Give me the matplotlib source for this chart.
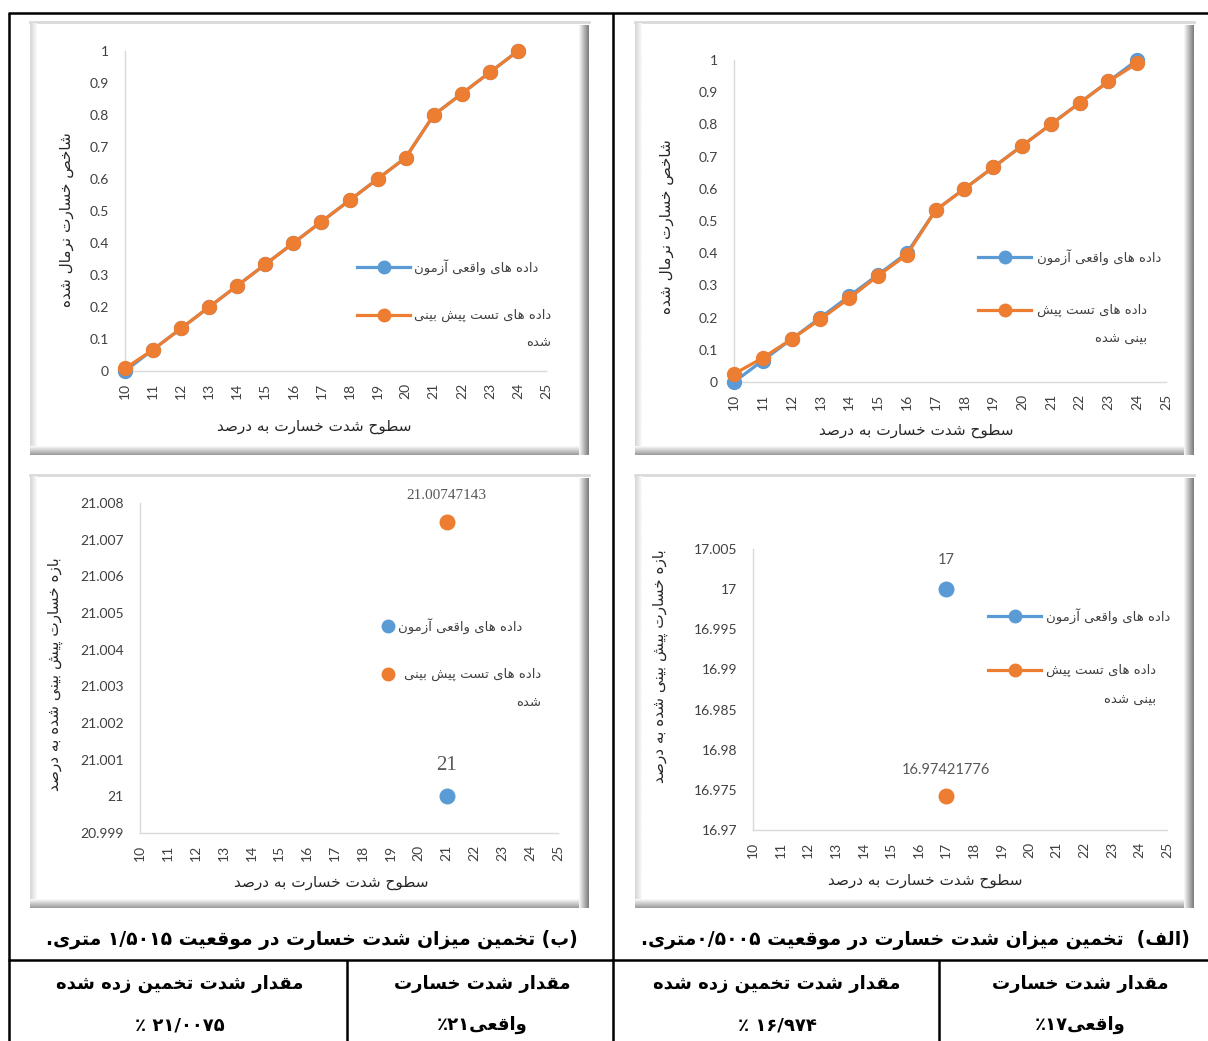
import numpy as np
import matplotlib
matplotlib.use("Agg")
import matplotlib.pyplot as plt
from matplotlib.ticker import FuncFormatter

# ---------------- data ----------------
levels = list(range(10, 25))
x_ticks = list(range(10, 26))
norm_ticks = [round(0.1 * k, 1) for k in range(11)]

# (الف) top-right chart: normalised damage index
alef_real = [0, 0.0667, 0.1333, 0.2, 0.2667, 0.3333, 0.4, 0.5333, 0.6, 0.6667,
             0.7333, 0.8, 0.8667, 0.9333, 1.0]
alef_pred = [0.025, 0.075, 0.1333, 0.195, 0.26, 0.33, 0.395, 0.5333, 0.6, 0.6667,
             0.7333, 0.8, 0.8667, 0.9333, 0.99]
# (ب) top-left chart
be_real = [0, 0.0667, 0.1333, 0.2, 0.2667, 0.3333, 0.4, 0.4667, 0.5333, 0.6,
           0.6667, 0.8, 0.8667, 0.9333, 1.0]
be_pred = [0.008, 0.0667, 0.1333, 0.2, 0.2667, 0.3333, 0.4, 0.4667, 0.5333, 0.6,
           0.6667, 0.8, 0.8667, 0.9333, 1.0]

# single point estimates
alef_x = [17]
alef_point_real = [17]
alef_point_pred = [16.97421776]
alef_point_ticks = [16.97, 16.975, 16.98, 16.985, 16.99, 16.995, 17.0, 17.005]
be_x = [21]
be_point_real = [21]
be_point_pred = [21.00747143]
be_point_ticks = [20.999, 21.0, 21.001, 21.002, 21.003, 21.004, 21.005, 21.006, 21.007, 21.008]

# texts (logical order)
ylab_norm = "شاخص خسارت نرمال شده"
ylab_range = "بازه خسارت پیش بینی شده به درصد"
xlab = "سطوح شدت خسارت به درصد"
leg_real = "داده های واقعی آزمون"
caption_alef = "(الف)  تخمین میزان شدت خسارت در موقعیت ۰/۵۰۰۵متری."
caption_be = "(ب) تخمین میزان شدت خسارت در موقعیت ۱/۵۰۱۵ متری."
cell_real_head = "مقدار شدت خسارت"
cell_est_head = "مقدار شدت تخمین زده شده"
cell_vals = ["واقعی۱۷٪", "۱۶/۹۷۴ ٪", "واقعی۲۱٪", "۲۱/۰۰۷۵ ٪"]

BLUE = "#5B9BD5"
ORANGE = "#ED7D31"
AXC = "#D9D9D9"
TXT = "#404040"

# ---------------- persian shaping (no raqm in matplotlib) ----------------
FORMS = {
    "آ": (0xFE81, 2), "ا": (0xFE8D, 2), "ب": (0xFE8F, 4), "ت": (0xFE95, 4),
    "ث": (0xFE99, 4), "ج": (0xFE9D, 4), "ح": (0xFEA1, 4), "خ": (0xFEA5, 4),
    "د": (0xFEA9, 2), "ذ": (0xFEAB, 2), "ر": (0xFEAD, 2), "ز": (0xFEAF, 2),
    "س": (0xFEB1, 4), "ش": (0xFEB5, 4), "ص": (0xFEB9, 4), "ض": (0xFEBD, 4),
    "ط": (0xFEC1, 4), "ظ": (0xFEC5, 4), "ع": (0xFEC9, 4), "غ": (0xFECD, 4),
    "ف": (0xFED1, 4), "ق": (0xFED5, 4), "ل": (0xFEDD, 4), "م": (0xFEE1, 4),
    "ن": (0xFEE5, 4), "ه": (0xFEE9, 4), "و": (0xFEED, 2), "پ": (0xFB56, 4),
    "چ": (0xFB7A, 4), "ژ": (0xFB8A, 2), "ک": (0xFB8E, 4), "گ": (0xFB92, 4),
    "ی": (0xFBFC, 4),
}
DIGITS = "0123456789۰۱۲۳۴۵۶۷۸۹"
MIRROR = {"(": ")", ")": "("}


def shape(s):
    out = []
    i = 0
    while i < len(s):
        c = s[i]
        f = FORMS.get(c)
        if f is None:
            out.append(c)
            i += 1
            continue
        pf = FORMS.get(s[i - 1]) if i > 0 else None
        jp = pf is not None and pf[1] == 4
        if c == "ل" and i + 1 < len(s) and s[i + 1] in "اآ":
            base = 0xFEFB if s[i + 1] == "ا" else 0xFEF5
            out.append(chr(base + (1 if jp else 0)))
            i += 2
            continue
        jn = f[1] == 4 and i + 1 < len(s) and s[i + 1] in FORMS
        idx = 3 if (jp and jn) else 1 if jp else 2 if jn else 0
        out.append(chr(f[0] + idx))
        i += 1
    return "".join(out)


def fa(s):
    lines = []
    for line in s.split("\n"):
        sh = shape(line)
        toks = []
        i = 0
        while i < len(sh):
            if sh[i] in DIGITS:
                j = i
                while j < len(sh) and (sh[j] in DIGITS or
                                       (sh[j] in "./" and j + 1 < len(sh) and sh[j + 1] in DIGITS)):
                    j += 1
                toks.append(sh[i:j])
                i = j
            else:
                toks.append(MIRROR.get(sh[i], sh[i]))
                i += 1
        lines.append("".join(reversed(toks)))
    return "\n".join(lines)


FA = ["DejaVu Sans"]
NUM = ["Lato", "DejaVu Sans"]

# ---------------- figure ----------------
W, H = 1208, 1041
fig = plt.figure(figsize=(W / 100, H / 100), dpi=100)
bg = fig.add_axes([0, 0, 1, 1])
bg.set_xlim(0, W)
bg.set_ylim(H, 0)
bg.axis("off")


def frame(x0, y0, x1, y1):
    bg.add_patch(plt.Rectangle((x0, y0), x1 - x0, y1 - y0, fc="white", ec="none", zorder=1))
    bg.plot([x0, x1], [y0 + 1, y0 + 1], color="#d9d9d9", lw=2, zorder=2)
    left = np.linspace(0.84, 0.97, 7)[None, :]
    right = np.linspace(0.96, 0.5, 10)[None, :]
    bottom = np.linspace(0.97, 0.62, 9)[:, None]
    kw = dict(cmap="gray", vmin=0, vmax=1, aspect="auto", zorder=2, interpolation="bilinear")
    bg.imshow(left, extent=(x0, x0 + 7, y1, y0 + 2), **kw)
    bg.imshow(bottom, extent=(x0, x1, y1, y1 - 9), **kw)
    bg.imshow(right, extent=(x1 - 10, x1, y1, y0 + 4), **kw)


for fr in [(30, 21, 589, 455), (635, 21, 1194, 455), (30, 474, 589, 908), (635, 474, 1194, 908)]:
    frame(*fr)

# table lines
lk = dict(color="black", lw=1.8, zorder=3, solid_capstyle="butt")
bg.plot([8, W], [13, 13], **lk)
bg.plot([9, 9], [13, H], **lk)
bg.plot([613, 613], [13, H], **lk)
bg.plot([8, W], [960, 960], **lk)
bg.plot([347, 347], [960, H], **lk)
bg.plot([939, 939], [960, H], **lk)

# captions and bottom cells
bg.text(1190, 940, fa(caption_alef), ha="right", va="center", family=FA,
        weight="bold", fontsize=13.5, zorder=4)
bg.text(578, 940, fa(caption_be), ha="right", va="center", family=FA,
        weight="bold", fontsize=13.5, zorder=4)
heads = [cell_real_head, cell_est_head, cell_real_head, cell_est_head]
cell_cx = [1080, 777, 482, 180]
for cx, hd, val in zip(cell_cx, heads, cell_vals):
    bg.text(cx, 984, fa(hd), ha="center", va="center", family=FA, weight="bold", fontsize=13)
    bg.text(cx, 1025, fa(val), ha="center", va="center", family=FA, weight="bold", fontsize=13)


def add_ax(x0, x1, ytop, ybot):
    ax = fig.add_axes([x0 / W, 1 - ybot / H, (x1 - x0) / W, (ybot - ytop) / H])
    ax.set_facecolor("none")
    for s in ["top", "right"]:
        ax.spines[s].set_visible(False)
    for s in ["left", "bottom"]:
        ax.spines[s].set_color(AXC)
        ax.spines[s].set_linewidth(1.0)
    ax.set_xlim(10, 25)
    ax.set_xticks(x_ticks)
    ax.tick_params(axis="x", length=0, pad=8.5, labelrotation=90, labelsize=10, colors=TXT)
    ax.tick_params(axis="y", length=0, pad=11.5, labelsize=10, colors=TXT)
    for t in ax.get_xticklabels() + ax.get_yticklabels():
        t.set_family(NUM)
    return ax


fmt = FuncFormatter(lambda v, p: "%g" % round(v, 4))

# top charts
ax_b = add_ax(125, 546, 51, 371)
ax_b.plot(levels, be_real, color=BLUE, lw=2.3, marker="o", ms=10, clip_on=False, zorder=3)
ax_b.plot(levels, be_pred, color=ORANGE, lw=2.3, marker="o", ms=10, clip_on=False, zorder=4)
ax_a = add_ax(734, 1166, 60, 382)
ax_a.plot(levels, alef_real, color=BLUE, lw=2.3, marker="o", ms=10, clip_on=False, zorder=3)
ax_a.plot(levels, alef_pred, color=ORANGE, lw=2.3, marker="o", ms=10, clip_on=False, zorder=4)
for ax in (ax_a, ax_b):
    ax.set_ylim(0, 1)
    ax.set_yticks(norm_ticks)
    ax.yaxis.set_major_formatter(fmt)
    for t in ax.get_yticklabels() + ax.get_xticklabels():
        t.set_family(NUM)

# bottom charts
ax_bp = add_ax(140, 558, 503, 833)
ax_bp.plot(be_x, be_point_real, "o", color=BLUE, ms=10.5, clip_on=False)
ax_bp.plot(be_x, be_point_pred, "o", color=ORANGE, ms=10.5, clip_on=False)
ax_bp.set_ylim(20.999, 21.008)
ax_bp.set_yticks(be_point_ticks)
for xv, yv in zip(be_x, be_point_real):
    ax_bp.annotate("%g" % yv, (xv, yv), xytext=(0, 15), textcoords="offset points",
                   ha="center", va="bottom", family="Liberation Serif", fontsize=15, color="#595959")
for xv, yv in zip(be_x, be_point_pred):
    ax_bp.annotate("%.8f" % yv, (xv, yv), xytext=(0, 15), textcoords="offset points",
                   ha="center", va="bottom", family="Liberation Serif", fontsize=11, color="#595959")

ax_ap = add_ax(753, 1167, 549, 830)
ax_ap.plot(alef_x, alef_point_real, "o", color=BLUE, ms=10.5, clip_on=False)
ax_ap.plot(alef_x, alef_point_pred, "o", color=ORANGE, ms=10.5, clip_on=False)
ax_ap.set_ylim(16.97, 17.005)
ax_ap.set_yticks(alef_point_ticks)
for xv, yv in zip(alef_x, alef_point_real):
    ax_ap.annotate("%g" % yv, (xv, yv), xytext=(0, 16), textcoords="offset points",
                   ha="center", va="bottom", family=NUM, fontsize=10.5, color="#595959")
for xv, yv in zip(alef_x, alef_point_pred):
    ax_ap.annotate("%.8f" % yv, (xv, yv), xytext=(0, 14), textcoords="offset points",
                   ha="center", va="bottom", family=NUM, fontsize=10.5, color="#595959")
for ax in (ax_ap, ax_bp):
    ax.yaxis.set_major_formatter(fmt)
    for t in ax.get_yticklabels() + ax.get_xticklabels():
        t.set_family(NUM)

# axis titles (placed in pixel space of the whole page)
for x, y, s in [(66, 220, ylab_norm), (667, 227, ylab_norm),
                (55, 674, ylab_range), (660, 666, ylab_range)]:
    bg.text(x, y, fa(s), rotation=90, ha="center", va="center", family=FA,
            fontsize=11, color="#262626")
for x, y in [(314, 427), (916, 430), (331, 883), (925, 880)]:
    bg.text(x, y, fa(xlab), ha="center", va="center", family=FA, fontsize=11, color="#262626")


# legends
def legend_item(hx0, hx1, y, color, with_line, lines, tx, gap):
    if with_line:
        bg.plot([hx0, hx1], [y, y], color=color, lw=2.3, zorder=5)
    bg.plot([(hx0 + hx1) / 2], [y], "o", color=color, ms=9, zorder=6)
    first = bg.text(tx, y, fa(lines[0]), ha="left", va="center", family=FA,
                    fontsize=9.5, color=TXT, zorder=6)
    if len(lines) > 1:
        r = fig.canvas.get_renderer()
        bb = first.get_window_extent(renderer=r)
        xr = bg.transData.inverted().transform((bb.x1, bb.y0))[0]
        for k, ln in enumerate(lines[1:], start=1):
            bg.text(xr, y + k * gap, fa(ln), ha="right", va="center", family=FA,
                    fontsize=9.5, color=TXT, zorder=6)


legend_item(357, 410, 267, BLUE, True, [leg_real], 414, 28)
legend_item(357, 410, 315, ORANGE, True, ["داده های تست پیش بینی", "شده"], 414, 28)
legend_item(978, 1031, 257, BLUE, True, [leg_real], 1037, 29)
legend_item(978, 1031, 310, ORANGE, True, ["داده های تست پیش", "بینی شده"], 1037, 29)
legend_item(388, 388, 626, BLUE, False, [leg_real], 398, 29)
legend_item(388, 388, 674, ORANGE, False, ["داده های تست پیش بینی", "شده"], 404, 29)
legend_item(988, 1041, 616, BLUE, True, [leg_real], 1046, 30)
legend_item(988, 1041, 670, ORANGE, True, ["داده های تست پیش", "بینی شده"], 1046, 30)

fig.savefig("out.png", dpi=100)
